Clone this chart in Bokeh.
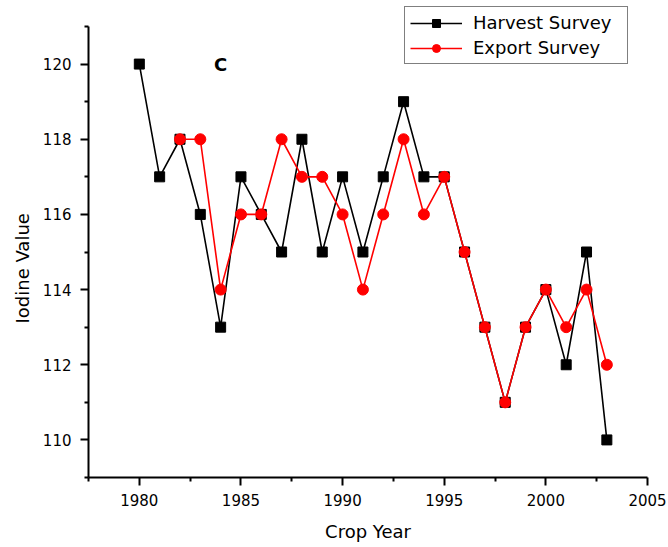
import numpy as np
from bokeh.plotting import figure
from bokeh.models import Legend, LegendItem, FixedTicker, Label, Range1d, Title
from bokeh.embed import file_html
from bokeh.resources import INLINE

# ---- data ----
harvest_years = [1980, 1981, 1982, 1983, 1984, 1985, 1986, 1987, 1988, 1989, 1990, 1991,
                 1992, 1993, 1994, 1995, 1996, 1997, 1998, 1999, 2000, 2001, 2002, 2003]
harvest_values = [120, 117, 118, 116, 113, 117, 116, 115, 118, 115, 117, 115,
                  117, 119, 117, 117, 115, 113, 111, 113, 114, 112, 115, 110]

export_years = [1982, 1983, 1984, 1985, 1986, 1987, 1988, 1989, 1990, 1991, 1992,
                1993, 1994, 1995, 1996, 1997, 1998, 1999, 2000, 2001, 2002, 2003]
export_values = [118, 118, 114, 116, 116, 118, 117, 117, 116, 114, 116,
                 118, 116, 117, 115, 113, 111, 113, 114, 113, 114, 112]

x_major_ticks = [1980, 1985, 1990, 1995, 2000, 2005]
x_minor_ticks = [1977.5, 1982.5, 1987.5, 1992.5, 1997.5, 2002.5]
y_major_ticks = [110, 112, 114, 116, 118, 120]
y_minor_ticks = [109, 111, 113, 115, 117, 119, 121]

series_names = ["Harvest Survey", "Export Survey"]
panel_label = "C"
x_title = "Crop Year"
y_title = "Iodine Value"

FONT = "DejaVu Sans"

# frame reaches the canvas top so the legend (inside the frame) is not clipped;
# the y axis line itself is bounded to 109..121
p = figure(frame_width=559, frame_height=477, output_backend="svg", toolbar_location=None,
           x_range=Range1d(1977.5, 2005), y_range=Range1d(109, 121.692),
           min_border_left=88, min_border_right=21, min_border_top=0, min_border_bottom=70)

p.xgrid.visible = False
p.ygrid.visible = False
p.outline_line_color = None
p.background_fill_color = "white"
p.border_fill_color = "white"

# lines + markers
hl = p.line(harvest_years, harvest_values, line_color="black", line_width=1.6)
hs = p.scatter(harvest_years, harvest_values, marker="square", size=10,
               fill_color="black", line_color="black")
el = p.line(export_years, export_values, line_color="#ff0000", line_width=1.6)
es = p.scatter(export_years, export_values, marker="circle", size=11,
               fill_color="#ff0000", line_color="#ff0000")

for ax, major, minor in ((p.xaxis[0], x_major_ticks, x_minor_ticks),
                         (p.yaxis[0], y_major_ticks, y_minor_ticks)):
    ax.ticker = FixedTicker(ticks=major, minor_ticks=minor)
    ax.axis_line_width = 2
    ax.axis_line_color = "black"
    ax.major_tick_line_width = 2
    ax.minor_tick_line_width = 2
    ax.major_tick_line_color = "black"
    ax.minor_tick_line_color = "black"
    ax.major_tick_out = 8
    ax.major_tick_in = 0
    ax.minor_tick_out = 4
    ax.minor_tick_in = 0
    ax.major_label_text_font = FONT
    ax.major_label_text_font_size = "15px"
    ax.major_label_text_color = "black"
    ax.axis_label_text_font = FONT
    ax.axis_label_text_font_size = "18px"
    ax.axis_label_text_font_style = "normal"
    ax.axis_label_text_color = "black"

p.yaxis[0].bounds = (y_minor_ticks[0], y_minor_ticks[-1])
p.xaxis[0].axis_label = x_title
p.xaxis[0].major_label_standoff = 8
p.yaxis[0].major_label_standoff = 9
p.xaxis[0].axis_label_standoff = 12

# y title as a left-side Title so it can be shifted along the axis
p.add_layout(Title(text=y_title, align="left", offset=154, standoff=13,
                   text_font=FONT, text_font_size="18px", text_font_style="normal",
                   text_color="black"), "left")

p.add_layout(Label(x=1984, y=120, text=panel_label, text_font=FONT, text_font_size="18px",
                   text_font_style="bold", text_align="center", text_baseline="middle",
                   text_color="black"))

legend = Legend(items=[LegendItem(label=series_names[0], renderers=[hl, hs]),
                       LegendItem(label=series_names[1], renderers=[el, es])],
                location=(316, 413))
legend.border_line_color = "black"
legend.border_line_width = 1.5
legend.background_fill_alpha = 1
legend.label_text_font = FONT
legend.label_text_font_size = "18px"
legend.label_text_color = "black"
legend.glyph_width = 52
legend.glyph_height = 20
legend.label_height = 20
legend.label_width = 149
legend.label_standoff = 11
legend.spacing = 4
legend.padding = 5
legend.margin = 0
p.add_layout(legend, "center")

open("out.html", "w").write(file_html(p, INLINE))
